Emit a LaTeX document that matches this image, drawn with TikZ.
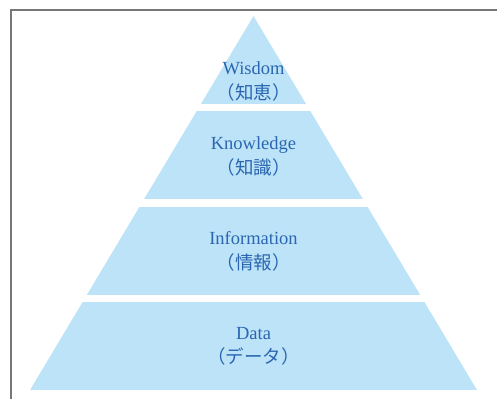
\documentclass[tikz,border=0pt]{standalone}
\usepackage{fontspec}
\setmainfont{Liberation Serif}
\newfontfamily\jpfont{Noto Sans CJK JP}
\definecolor{bandfill}{HTML}{BDE3F8}
\definecolor{labelblue}{HTML}{2A66B0}
\definecolor{framegray}{HTML}{777777}
\begin{document}
\begin{tikzpicture}[x=1bp,y=-1bp,
  label/.style={align=center,text=labelblue,inner sep=0pt,
    font=\fontsize{18.5bp}{24.5bp}\selectfont},
  band/.style={fill=bandfill,draw=none}]
\useasboundingbox (0,0) rectangle (497,399);
% outer frame (left and top edges only)
\draw[framegray,line width=1.8bp] (10.8,399) -- (10.8,10) -- (497,10);
% pyramid: one triangle, split into four horizontal bands
\coordinate (apex) at (253.5,16);
\coordinate (bl) at (30,390);
\coordinate (br) at (477,390);
\begin{scope}
  \clip (apex) -- (br) -- (bl) -- cycle;
  \fill[band] (0,16)    rectangle (497,103.9);
  \fill[band] (0,111.4) rectangle (497,199.3);
  \fill[band] (0,206.8) rectangle (497,294.6);
  \fill[band] (0,302.1) rectangle (497,390);
\end{scope}
\node[label] (wisdom) at (253.5,81.5) {Wisdom\\{\jpfont （知恵）}};
\node[label] (knowledge) at (253.5,156.5) {Knowledge\\{\jpfont （知識）}};
\node[label] (information) at (253.5,251.5) {Information\\{\jpfont （情報）}};
\node[label] (data) at (253.5,346.5) {Data\\{\jpfont （データ）}};
\end{tikzpicture}
\end{document}
